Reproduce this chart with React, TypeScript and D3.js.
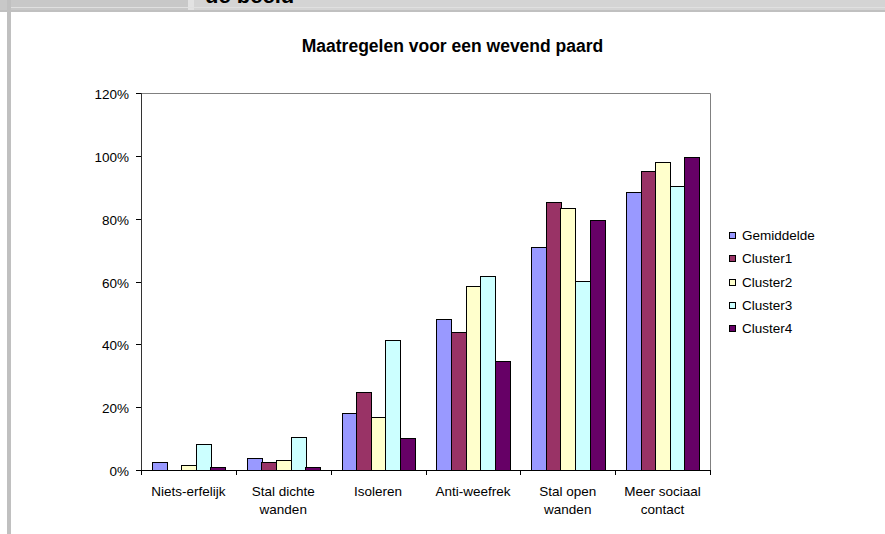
import { useEffect, useRef } from "react";
import * as d3 from "d3";

const categories = [
  ["Niets-erfelijk"],
  ["Stal dichte", "wanden"],
  ["Isoleren"],
  ["Anti-weefrek"],
  ["Stal open", "wanden"],
  ["Meer sociaal", "contact"],
];
const seriesNames = ["Gemiddelde", "Cluster1", "Cluster2", "Cluster3", "Cluster4"];
const gemiddelde = [2.4, 3.7, 18.2, 48.0, 71.0, 88.5];
const cluster1 = [0, 2.4, 24.8, 43.9, 85.3, 95.3];
const cluster2 = [1.6, 3.1, 16.8, 58.7, 83.3, 98.0];
const cluster3 = [8.4, 10.4, 41.5, 61.9, 60.1, 90.4];
const cluster4 = [0.9, 0.9, 10.1, 34.8, 79.5, 99.5];
const yTicks = [0, 20, 40, 60, 80, 100, 120];
const colors = ["#9999FF", "#993366", "#FFFFCC", "#CCFFFF", "#660066"];

export default function App() {
  const ref = useRef<SVGSVGElement | null>(null);
  const width = 885;
  const height = 534;

  useEffect(() => {
    if (!ref.current) return;
    const svg = d3.select(ref.current);
    svg.selectAll("*").remove();

    const font = "Arial, 'Liberation Sans', sans-serif";
    const series = [gemiddelde, cluster1, cluster2, cluster3, cluster4];

    // window chrome around the chart
    svg.append("rect").attr("x", 0).attr("y", 0).attr("width", width).attr("height", height).attr("fill", "#fff");
    svg.append("rect").attr("x", 0).attr("y", 0).attr("width", width).attr("height", 12).attr("fill", "#d4d4d4");
    svg.append("rect").attr("x", 0).attr("y", 0).attr("width", 188).attr("height", 10).attr("fill", "#c8c8c8");
    svg.append("rect").attr("x", 188).attr("y", 0).attr("width", 6).attr("height", 10).attr("fill", "#e2e2e2");
    svg.append("rect").attr("x", 11).attr("y", 7).attr("width", width).attr("height", 1).attr("fill", "#e0e0e0");
    svg.append("rect").attr("x", 0).attr("y", 10).attr("width", width).attr("height", 2).attr("fill", "#c0c0c0");
    svg.append("rect").attr("x", 7).attr("y", 0).attr("width", 4).attr("height", height).attr("fill", "#c0c0c0");
    svg.append("text")
      .attr("x", 205).attr("y", 3)
      .attr("font-family", font).attr("font-weight", "bold").attr("font-size", 22)
      .attr("fill", "#000")
      .text("de beeld");

    const margin = { left: 141, right: 710, top: 93, bottom: 470 };

    // category bands: 5 bars + 150% gap per category
    const x = d3.scaleBand<number>()
      .domain(d3.range(categories.length))
      .range([margin.left, margin.right])
      .paddingInner(1.5 / 6.5)
      .paddingOuter(0.75 / 6.5);
    const barW = x.bandwidth() / 5;

    const y = d3.scaleLinear().domain([0, 120]).range([margin.bottom, margin.top]);

    // plot border
    svg.append("path")
      .attr("d", `M${margin.left},${margin.top + 0.5}H${margin.right + 0.5}V${margin.bottom}`)
      .attr("fill", "none").attr("stroke", "#808080").attr("stroke-width", 1);

    // bars
    const g = svg.append("g").attr("shape-rendering", "crispEdges");
    series.forEach((vals, s) => {
      g.selectAll(null)
        .data(vals)
        .join("rect")
        .attr("x", (_, i) => Math.round((x(i) ?? 0) + s * barW) + 0.5)
        .attr("y", (d) => Math.round(y(d)) + 0.5)
        .attr("width", Math.round(barW))
        .attr("height", (d) => Math.max(0, margin.bottom - Math.round(y(d))))
        .attr("fill", colors[s])
        .attr("stroke", (d) => (d > 0 ? "#000" : "none"))
        .attr("stroke-width", 1);
    });

    // y axis
    svg.append("line")
      .attr("x1", margin.left + 0.5).attr("x2", margin.left + 0.5)
      .attr("y1", margin.top).attr("y2", margin.bottom)
      .attr("stroke", "#333");
    const yAxis = svg.append("g").attr("font-family", font).attr("font-size", 13.5);
    yTicks.forEach((t) => {
      const yy = Math.round(y(t)) + 0.5;
      yAxis.append("line").attr("x1", margin.left - 5).attr("x2", margin.left).attr("y1", yy).attr("y2", yy).attr("stroke", "#000");
      yAxis.append("text")
        .attr("x", 129).attr("y", yy + 5)
        .attr("text-anchor", "end").attr("fill", "#000")
        .text(`${t}%`);
    });

    // x axis
    const step = x.step();
    svg.append("line")
      .attr("x1", margin.left).attr("x2", margin.right + 1)
      .attr("y1", margin.bottom + 0.5).attr("y2", margin.bottom + 0.5)
      .attr("stroke", "#000");
    const xAxis = svg.append("g").attr("font-family", font).attr("font-size", 13.5);
    d3.range(categories.length + 1).forEach((i) => {
      const xx = Math.round(margin.left + i * step) + 0.5;
      xAxis.append("line").attr("x1", xx).attr("x2", xx).attr("y1", margin.bottom).attr("y2", margin.bottom + 5).attr("stroke", "#000");
    });
    categories.forEach((lines, i) => {
      const cx = (x(i) ?? 0) + x.bandwidth() / 2;
      const t = xAxis.append("text")
        .attr("x", cx)
        .attr("y", 496)
        .attr("text-anchor", "middle").attr("fill", "#000");
      lines.forEach((ln, k) => {
        t.append("tspan").attr("x", cx).attr("dy", k === 0 ? 0 : 18).text(ln);
      });
    });

    // title
    svg.append("text")
      .attr("x", 452.5).attr("y", 52)
      .attr("text-anchor", "middle")
      .attr("font-family", font).attr("font-weight", "bold").attr("font-size", 17.5)
      .text("Maatregelen voor een wevend paard");

    // legend
    const legend = svg.append("g").attr("font-family", font).attr("font-size", 13.5);
    seriesNames.forEach((name, s) => {
      const ly = 235 + s * 23.3;
      legend.append("rect")
        .attr("x", 729.5).attr("y", Math.round(ly - 3) + 0.5)
        .attr("width", 6).attr("height", 6)
        .attr("fill", colors[s]).attr("stroke", "#000")
        .attr("shape-rendering", "crispEdges");
      legend.append("text").attr("x", 742).attr("y", ly + 5).attr("fill", "#000").text(name);
    });
  }, []);

  return (
    <svg
      ref={ref}
      width={width}
      height={height}
      style={{ position: "absolute", left: 0, top: 0, display: "block" }}
    />
  );
}
